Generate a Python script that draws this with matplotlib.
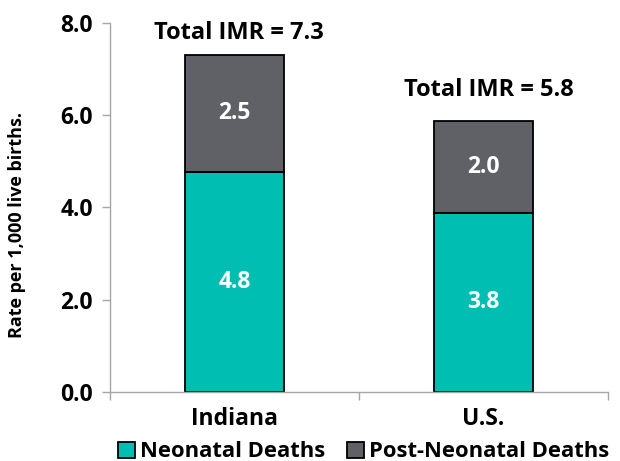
import matplotlib.pyplot as plt
import numpy as np

# Data
regions = ["Indiana", "U.S."]
neonatal = [4.77, 3.88]
post_neonatal = [2.54, 2.0]
neonatal_labels = ["4.8", "3.8"]
post_labels = ["2.5", "2.0"]
total_labels = ["Total IMR = 7.3", "Total IMR = 5.8"]

plt.rcParams['font.family'] = ['Open Sans', 'DejaVu Sans']
plt.rcParams['font.weight'] = 'bold'

teal = '#00BFB2'
grey = '#5F6166'

fig = plt.figure(figsize=(6.2, 4.61), dpi=100)
ax = fig.add_axes([0.177, 0.150, 0.804, 0.800])

x = np.arange(len(regions))
width = 0.4
b1 = ax.bar(x, neonatal, width, color=teal, edgecolor='black', linewidth=1.3,
            label='Neonatal Deaths')
b2 = ax.bar(x, post_neonatal, width, bottom=neonatal, color=grey, edgecolor='black',
            linewidth=1.3, label='Post-Neonatal Deaths')

# segment labels
for i in range(len(regions)):
    ax.text(x[i], neonatal[i] / 2, neonatal_labels[i], ha='center', va='center',
            color='white', fontsize=16.5, fontweight='bold')
    ax.text(x[i], neonatal[i] + post_neonatal[i] / 2, post_labels[i], ha='center',
            va='center', color='white', fontsize=16.5, fontweight='bold')
    top = neonatal[i] + post_neonatal[i]
    ax.text(x[i] + 0.02, top + 0.48 + 0.19 * i, total_labels[i], ha='center', va='center',
            color='black', fontsize=17, fontweight='bold')

ax.set_xlim(-0.5, 1.5)
ax.set_ylim(0, 8)
ax.set_yticks([0, 2, 4, 6, 8])
ax.set_yticklabels(['0.0', '2.0', '4.0', '6.0', '8.0'])
ax.set_xticks(x)
ax.set_xticklabels(regions)
ax.set_xticks([-0.5, 0.5, 1.5], minor=True)

ax.tick_params(axis='y', direction='out', length=6, width=1, color='#A6A6A6',
               labelsize=16.5, pad=6)
ax.tick_params(axis='x', which='major', length=0, labelsize=16.5, pad=11)
ax.tick_params(axis='x', which='minor', direction='out', length=6, width=1,
               color='#A6A6A6')

for side in ['top', 'right']:
    ax.spines[side].set_visible(False)
for side in ['left', 'bottom']:
    ax.spines[side].set_color('#A6A6A6')
    ax.spines[side].set_linewidth(1)

ax.set_ylabel('Rate per 1,000 live births.', fontsize=13, fontweight='bold')
ax.yaxis.set_label_coords(-0.167, 0.453)

ax.legend(loc='upper center', bbox_to_anchor=(0.51, -0.11), ncol=2, frameon=False,
          fontsize=15.8, handlelength=0.75, handleheight=0.75, handletextpad=0.25,
          columnspacing=1.0, borderaxespad=0)

plt.savefig('out.png', dpi=100)
